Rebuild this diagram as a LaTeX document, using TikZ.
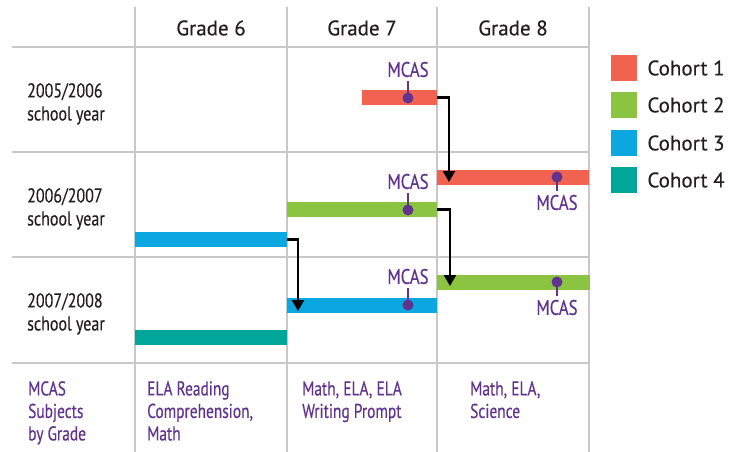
\documentclass[tikz,border=0pt]{standalone}
\usepackage{fontspec}
\setmainfont[FakeBold=0.4]{PT Sans}
\newfontfamily\narrowfont[FakeStretch=0.8, FakeBold=0.4]{PT Sans}
\newfontfamily\slimfont[FakeStretch=0.77, FakeBold=0.4]{PT Sans}
\usetikzlibrary{positioning}
\usetikzlibrary{arrows.meta}
\definecolor{cohortone}{HTML}{F16350}
\definecolor{cohorttwo}{HTML}{8AC440}
\definecolor{cohortthree}{HTML}{0AA7E0}
\definecolor{cohortfour}{HTML}{00A699}
\definecolor{mcaspurple}{HTML}{61328E}
\definecolor{gridgray}{HTML}{C8C8CA}
\definecolor{textdark}{HTML}{231F20}
\tikzset{
  gridline/.style={draw=gridgray, line width=1.5pt},
  head/.style={font=\fontsize{21}{24}\selectfont, text=textdark, inner sep=0},
  rowlabel/.style={font=\narrowfont\fontsize{20}{23}\selectfont, text=textdark, align=left, inner sep=0, anchor=north west},
  subjects/.style={font=\slimfont\fontsize{20}{22.5}\selectfont, text=mcaspurple, align=left, inner sep=0, anchor=north west},
  bar/.style={rectangle, inner sep=0, minimum height=15pt, anchor=west},
  dot/.style={circle, fill=mcaspurple, inner sep=0, minimum size=11pt},
  mcas/.style={font=\narrowfont\fontsize{21}{24}\selectfont, text=mcaspurple, inner sep=0},
  stem/.style={draw=mcaspurple, line width=2.2pt},
  move/.style={draw=black, line width=2.4pt, -{Triangle[width=12pt,length=11pt]}},
  key/.style={rectangle, inner sep=0, minimum size=26pt},
  keytext/.style={font=\fontsize{21}{24}\selectfont, text=textdark, inner sep=0, anchor=west}
}
\begin{document}
\begin{tikzpicture}[x=1pt, y=-1pt]
\useasboundingbox (0,0) rectangle (729,452);

\foreach \x in {135,287,437,589} \draw[gridline] (\x,7) -- (\x,452);
\foreach \y in {47,152,257,363} \draw[gridline] (12,\y) -- (589,\y);

\node[head] (G6) at (211,28) {Grade 6};
\node[head] (G7) at (362,28) {Grade 7};
\node[head] (G8) at (513,28) {Grade 8};

\node[rowlabel] (Y1) at (27,83) {2005/2006\\school year};
\node[rowlabel] (Y2) at (27,188) {2006/2007\\school year};
\node[rowlabel] (Y3) at (27,293) {2007/2008\\school year};

\node[bar, fill=cohortone, minimum width=75pt] (C1a) at (362,97.5) {};
\node[bar, fill=cohortone, minimum width=152pt] (C1b) at (437,177) {};
\node[bar, fill=cohorttwo, minimum width=150pt] (C2a) at (287,209.5) {};
\node[bar, fill=cohorttwo, minimum width=153pt] (C2b) at (437,282) {};
\node[bar, fill=cohortthree, minimum width=152pt] (C3a) at (135,239.5) {};
\node[bar, fill=cohortthree, minimum width=150pt] (C3b) at (287,305.5) {};
\node[bar, fill=cohortfour, minimum width=152pt] (C4) at (135,337.5) {};

\node[dot] (D1a) at (408,98) {};
\node[dot] (D1b) at (557,177) {};
\node[dot] (D2a) at (408,210) {};
\node[dot] (D2b) at (557,282) {};
\node[dot] (D3b) at (408,305) {};

\node[mcas, above = 15pt of D1a] (M1a) {MCAS};
\node[mcas, below = 12pt of D1b] (M1b) {MCAS};
\node[mcas, above = 15pt of D2a] (M2a) {MCAS};
\node[mcas, below = 12pt of D2b] (M2b) {MCAS};
\node[mcas, above = 15pt of D3b] (M3b) {MCAS};

\draw[stem, shorten >=4pt] (D1a.center) -- (M1a);
\draw[stem, shorten >=4pt] (D1b.center) -- (M1b);
\draw[stem, shorten >=4pt] (D2a.center) -- (M2a);
\draw[stem, shorten >=4pt] (D2b.center) -- (M2b);
\draw[stem, shorten >=4pt] (D3b.center) -- (M3b);

\coordinate (T1) at (449,182);
\coordinate (T2) at (450,286);
\coordinate (T3) at (298,311);
\draw[move] (C1a.east) -| (T1);
\draw[move] (C2a.east) -| (T2);
\draw[move] (C3a.east) -| (T3);

\node[subjects] (S0) at (28,381) {MCAS\\Subjects\\by Grade};
\node[subjects] (S6) at (147,381) {ELA Reading\\Comprehension,\\Math};
\node[subjects] (S7) at (302,381) {Math, ELA, ELA\\Writing Prompt};
\node[subjects] (S8) at (470,381) {Math, ELA,\\Science};

\node[key, fill=cohortone] (K1) at (624,68) {};
\node[key, fill=cohorttwo] (K2) at (624,105) {};
\node[key, fill=cohortthree] (K3) at (624,143) {};
\node[key, fill=cohortfour] (K4) at (624,180) {};
\node[keytext, right = 10pt of K1] (L1) {Cohort 1};
\node[keytext, right = 10pt of K2] (L2) {Cohort 2};
\node[keytext, right = 10pt of K3] (L3) {Cohort 3};
\node[keytext, right = 10pt of K4] (L4) {Cohort 4};
\end{tikzpicture}
\end{document}
